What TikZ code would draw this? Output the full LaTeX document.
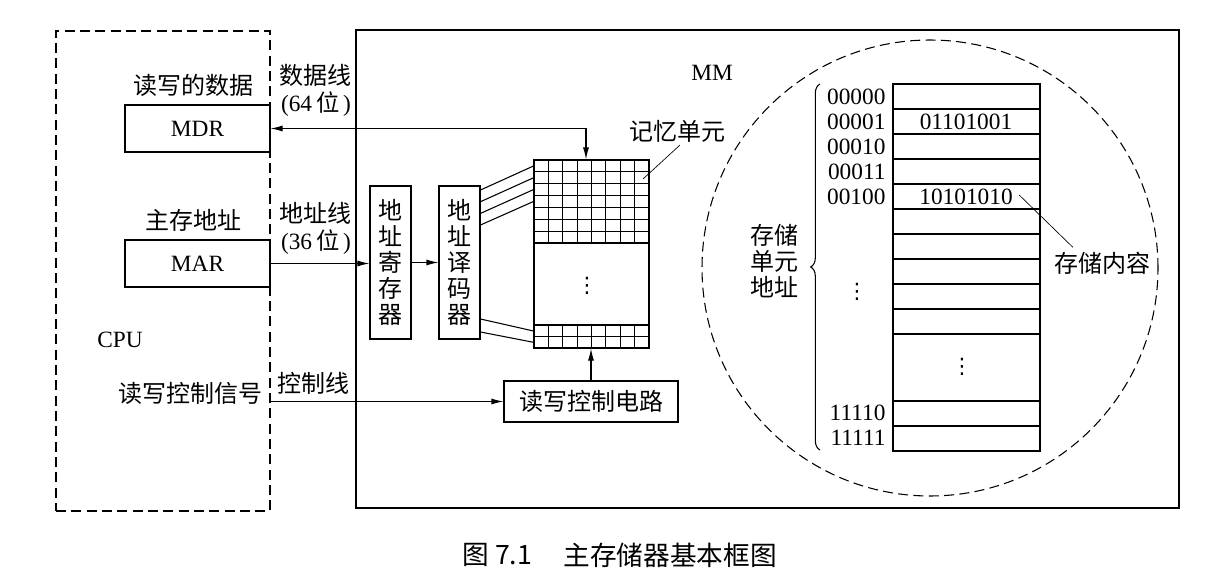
\documentclass[tikz,border=0pt]{standalone}
\usepackage{fontspec}
\setmainfont{Liberation Serif}
\newfontfamily\cjk{Noto Sans CJK SC}
\newfontfamily\symf{DejaVu Sans}
\usetikzlibrary{arrows.meta,fit,calc,decorations.pathreplacing}
\begin{document}
\begin{tikzpicture}[x=0.75pt,y=-0.75pt,line width=0.8pt,
  box/.style={draw, inner sep=0pt},
  zh/.style={font=\cjk\fontsize{18}{19.5}\selectfont, inner sep=0pt, align=center},
  la/.style={font=\fontsize{17.5}{20}\selectfont, inner sep=0pt, align=center},
  vd/.style={font=\symf\fontsize{16}{18}\selectfont, inner sep=0pt},
  captxt/.style={font=\cjk\fontsize{20}{22}\selectfont, inner sep=0pt},
  tip/.style={-{Latex[length=9pt,width=4.5pt]}},
  dtip/.style={{Latex[length=9pt,width=4.5pt]}-{Latex[length=9pt,width=4.5pt]}},
  dsh/.style={dash pattern=on 7.5pt off 4pt},
  leader/.style={line width=0.5pt}
]
\useasboundingbox (0,0) rectangle (1208,578);

% CPU side
\node[box, dsh, fit={(56,31)(270,511)}] (cpu) {};
\node[box, fit={(125,105)(270,152)}] (mdr) {};
\node[la] (mdrt) at (mdr.center) {MDR};
\node[box, fit={(125,240)(270,287)}] (mar) {};
\node[la] (mart) at (mar.center) {MAR};
\node[zh] (rwdata) at (193,85) {读写的数据};
\node[zh] (maddr) at (193,220) {主存地址};
\node[la] (cpul) at (120,340) {CPU};
\node[zh] (rwsig) at (190,393) {读写控制信号};

% bus labels
\node[zh] (dl1) at (315,75) {数据线};
\node[la] (dl2) at (316,104) {(64\,{\cjk 位}\,)};
\node[zh] (al1) at (315,213) {地址线};
\node[la] (al2) at (316,242) {(36\,{\cjk 位}\,)};
\node[zh] (cl1) at (313,383) {控制线};

% MM
\node[box, fit={(356,30)(1179,508)}] (mm) {};
\node[la] (mml) at (712,73) {MM};

\node[box, fit={(370,186)(411,339)}] (reg) {};
\node[zh] (regt) at (reg.center) {地\\址\\寄\\存\\器};
\node[box, fit={(439,186)(480,339)}] (dec) {};
\node[zh] (dect) at (dec.center) {地\\址\\译\\码\\器};

\node[box, fit={(534,160)(649,348)}] (grid) {};
\foreach \i in {1,...,7} \draw (534,{160+\i*83/7}) -- (649,{160+\i*83/7});
\draw (534,325) -- (649,325);
\draw (534,336.5) -- (649,336.5);
\foreach \j in {1,...,7} {
  \draw ({534+\j*115/8},160) -- ({534+\j*115/8},243);
  \draw ({534+\j*115/8},325) -- ({534+\j*115/8},348);
}
\node[vd] (gdots) at (587,286) {⋮};

\node[box, fit={(504,381)(678,422)}] (rw) {};
\node[zh] (rwt) at (rw.center) {读写控制电路};

\node[zh] (cell) at (677,131) {记忆单元};
\coordinate (cellpt) at (643,179);
\draw[leader] (680,145) -- (cellpt);

% connectors
\draw[dtip] (mdr.east) -| (grid.north -| 586,0);
\draw[tip] (mar.east) -- (reg.west |- mar.east);
\draw[tip] (reg.east) -- (dec.west);
\draw[tip] (cpu.east |- rw.west) -- (rw.west);
\draw[tip] (rw.north) -- (rw.north |- grid.south);
\foreach \a/\b in {190/166, 201.7/177.8, 213.4/189.6, 225/201.5, 319/331, 332/342.3}
  \draw (dec.east |- 0,\a) -- (grid.west |- 0,\b);

% zoom circle
\node[draw, circle, dsh, minimum size=342pt, inner sep=0pt] (zc) at (930,268) {};

\node[box, fit={(893,84)(1040,451)}] (col) {};
\foreach \y in {109,134,159,184,209,234,259,284,309,334,401,426}
  \draw (893,\y) -- (1040,\y);
\node[la, anchor=east] (a0) at (886,97) {00000};
\node[la, anchor=east] (a1) at (886,122) {00001};
\node[la, anchor=east] (a2) at (886,147) {00010};
\node[la, anchor=east] (a3) at (886,172) {00011};
\node[la, anchor=east] (a4) at (886,197) {00100};
\node[vd] (adots) at (857,292) {⋮};
\node[la, anchor=east] (a30) at (886,413) {11110};
\node[la, anchor=east] (a31) at (886,438) {11111};
\node[la] (c1) at (966,122) {01101001};
\node[la] (c4) at (966,197) {10101010};
\node[vd] (cdots) at (962,367) {⋮};

\draw[decorate, decoration={brace, amplitude=7pt}] (820,450) -- (820,84);
\node[zh] (addrl) at (774,261) {存储\\单元\\地址};

\node[zh] (contl) at (1102,263) {存储内容};
\draw[leader] ($(c4.east)+(6,-2)$) -- ($(contl.north west)!0.2!(contl.north east)+(0,-4)$);

% caption
\node[captxt, anchor=west] (cap1) at (462,555) {图 7.1};
\node[captxt, anchor=west] (cap2) at (563,555) {主存储器基本框图};
\end{tikzpicture}
\end{document}
